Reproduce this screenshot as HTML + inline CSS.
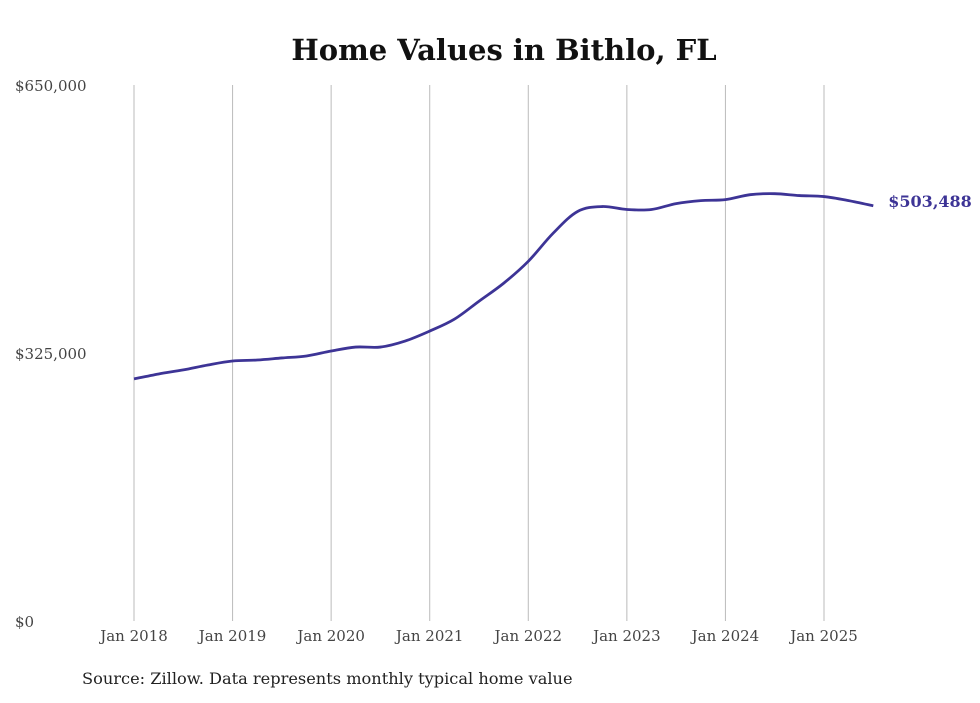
<!DOCTYPE html>
<html><head><meta charset="utf-8"><style>
body{margin:0;background:#fff;width:980px;height:699px;overflow:hidden;font-family:"DejaVu Serif","Liberation Serif",serif}
</style></head><body>
<svg width="980" height="699" id="chart">
<text x="504" y="60" text-anchor="middle" font-size="29" font-weight="bold" fill="#111">Home Values in Bithlo, FL</text>
<text x="82" y="684" font-size="16.2" fill="#222">Source: Zillow. Data represents monthly typical home value</text>
<g id="grid"></g><g id="yaxis"></g><g id="xaxis"></g><g id="series"></g>
</svg>
<script>
const months=[0,3,6,9,12,15,18,21,24,27,30,33,36,39,42,45,48,51,54,57,60,63,66,69,72,75,78,81,84,87,90];
const values=[293600,299600,304500,310500,315300,316500,319000,321400,327400,332200,332200,339500,351600,366000,387800,409600,436200,470000,496600,502600,499000,499000,506200,509800,511000,517000,518200,515900,514700,509800,503488];
const yTicks=[0,325000,650000];
const yTickLabels=["$0","$325,000","$650,000"];
const xTickMonths=[0,12,24,36,48,60,72,84];
const xTickLabels=["Jan 2018","Jan 2019","Jan 2020","Jan 2021","Jan 2022","Jan 2023","Jan 2024","Jan 2025"];
const endLabel="$503,488";
const NS="http://www.w3.org/2000/svg";
const x=m=>134+m*(690/84);
const y=v=>621-v*(536/650000);
function mk(t,a,p){const e=document.createElementNS(NS,t);for(const k in a)e.setAttribute(k,a[k]);p.appendChild(e);return e;}
const grid=document.getElementById('grid'),ya=document.getElementById('yaxis'),xa=document.getElementById('xaxis'),se=document.getElementById('series');
xTickMonths.forEach((m,i)=>{
 const l=mk('line',{x1:x(m),x2:x(m),y1:85,y2:621,stroke:'#bbb','stroke-width':1},grid);
 
 
 const t=mk('text',{x:x(m),y:641,'text-anchor':'middle','font-size':15,fill:'#444'},xa);
 t.textContent=xTickLabels[i];
 
 
});
yTicks.forEach((v,i)=>{
 const t=mk('text',{x:15,y:y(v)+6,'font-size':15,fill:'#444'},ya);
 t.textContent=yTickLabels[i];
 
 
});
const pts=months.map((m,i)=>[x(m),y(values[i])]);
let d='M'+pts[0][0]+','+pts[0][1];
for(let i=0;i<pts.length-1;i++){
 const p0=pts[i-1]||pts[i],p1=pts[i],p2=pts[i+1],p3=pts[i+2]||p2;
 const c1=[p1[0]+(p2[0]-p0[0])/6,p1[1]+(p2[1]-p0[1])/6],c2=[p2[0]-(p3[0]-p1[0])/6,p2[1]-(p3[1]-p1[1])/6];
 d+=` C${c1[0]},${c1[1]} ${c2[0]},${c2[1]} ${p2[0]},${p2[1]}`;
}
const path=mk('path',{d:d,fill:'none',stroke:'#3d3496','stroke-width':2.8,'stroke-linejoin':'round'},se);


const last=pts[pts.length-1];
const lb=mk('text',{x:last[0]+15,y:last[1]+1,'font-size':16,'font-weight':'bold',fill:'#3d3496'},se);
lb.textContent=endLabel;


</script>
</body></html>
